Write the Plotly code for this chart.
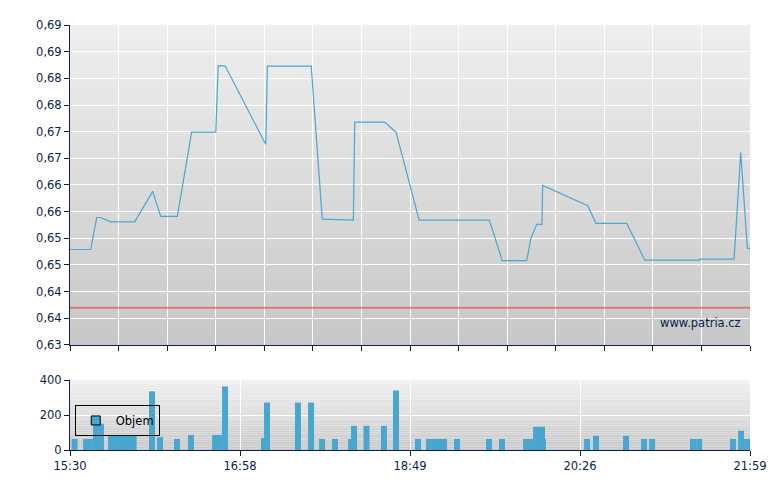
import plotly.graph_objects as go

# ---- data ----
# x positions: session position scale 0..389 (linear)
price_x = [0, 11.8, 15.3, 17.6, 23.3, 37.0, 47.3, 51.9, 61.4, 69.6,
           83.4, 84.8, 88.8, 112.0, 112.9, 138.0, 144.3, 162.1, 162.9, 180.0,
           186.5, 199.7, 239.9, 247.3, 261.3, 263.6, 267.0, 270.0, 270.4, 296.2,
           300.9, 318.5, 328.8, 360.0, 360.4, 379.9, 383.7, 387.5, 389]
price_y = [0.6479, 0.6479, 0.6539, 0.6539, 0.6531, 0.6531, 0.6588, 0.6541, 0.6541, 0.6699,
           0.6699, 0.6824, 0.6823, 0.6676, 0.6823, 0.6823, 0.6536, 0.6534, 0.6718, 0.6718,
           0.6699, 0.6534, 0.6534, 0.6458, 0.6458, 0.6500, 0.6526, 0.6526, 0.6599, 0.6561,
           0.6528, 0.6528, 0.6459, 0.6459, 0.6461, 0.6461, 0.6661, 0.6481, 0.6481]
prev_close = 0.637

vol_x = [2.6, 9.2, 11.4, 14.9, 17.7, 23.5, 26.9, 30.3, 33.2, 36.4,
         46.9, 51.5, 61.2, 69.2, 83.0, 85.2, 88.7, 111.0, 112.7, 130.4,
         137.9, 144.2, 151.6, 160.8, 162.5, 169.6, 179.6, 186.5, 199.1, 205.4,
         208.8, 212.2, 214.0, 221.4, 239.7, 247.1, 260.9, 263.2, 266.6, 270.0,
         270.6, 295.8, 300.9, 318.1, 328.4, 333.0, 356.4, 359.9, 379.3, 383.9, 387.3]
vol_y = [63, 63, 63, 150, 150, 86, 86, 86, 86, 86,
         335, 73, 63, 86, 86, 86, 363, 69, 271, 271,
         271, 63, 63, 63, 138, 138, 138, 340, 63, 63,
         63, 63, 63, 63, 63, 63, 63, 63, 133, 133,
         63, 63, 81, 81, 63, 63, 63, 63, 63, 110, 63]

price_tickvals = [0.630, 0.635, 0.640, 0.645, 0.650, 0.655, 0.660,
                  0.665, 0.670, 0.675, 0.680, 0.685, 0.690]
price_ticktext = ["0,63", "0,64", "0,64", "0,65", "0,65", "0,66", "0,66",
                  "0,67", "0,67", "0,68", "0,68", "0,69", "0,69"]
vol_tickvals = [0, 200, 400]
time_tickvals = [0, 97.25, 194.5, 291.75, 389]
time_ticktext = ["15:30", "16:58", "18:49", "20:26", "21:59"]

X_MAX = 389
NAVY = "#0a1f4e"
LINE_BLUE = "#4aa6d2"
BAR_BLUE = "#48a6cf"
FONT = dict(family="DejaVu Sans, Verdana, sans-serif", size=11.5, color=NAVY)

fig = go.Figure()

fig.add_trace(go.Scatter(x=price_x, y=price_y, mode="lines",
                         line=dict(color=LINE_BLUE, width=1.2),
                         showlegend=False, xaxis="x", yaxis="y"))

fig.add_trace(go.Bar(x=vol_x, y=vol_y, width=3.43, marker=dict(color=BAR_BLUE, line=dict(width=0)),
                     showlegend=False, xaxis="x2", yaxis="y2"))
# legend entry
fig.add_trace(go.Scatter(x=[None], y=[None], mode="markers", name="Objem",
                         marker=dict(symbol="square", size=9, color=BAR_BLUE,
                                     line=dict(color="black", width=1)),
                         xaxis="x2", yaxis="y2"))

# gradient backgrounds
def gradient(xref, yref, top=(239, 239, 239), bottom=(199, 199, 199), n=40):
    for i in range(n):
        f = (i + 0.5) / n
        c = tuple(int(round(bottom[k] + (top[k] - bottom[k]) * f)) for k in range(3))
        fig.add_shape(type="rect", xref=xref, yref=yref, x0=0, x1=1,
                      y0=i / n, y1=(i + 1) / n, layer="below",
                      line=dict(width=0), fillcolor="rgb(%d,%d,%d)" % c)

gradient("x domain", "y domain")
gradient("x2 domain", "y2 domain", bottom=(201, 201, 201))

fig.add_shape(type="line", xref="x domain", yref="y", x0=0, x1=1,
              y0=prev_close, y1=prev_close, line=dict(color="rgba(225,60,60,0.6)", width=2))

fig.add_annotation(text="www.patria.cz", xref="x domain", yref="y domain",
                   x=0.99, y=0.07, xanchor="right", yanchor="middle",
                   showarrow=False, font=FONT)

axis_common = dict(showline=True, linecolor=NAVY, linewidth=1, ticks="outside",
                   ticklen=5, tickcolor=NAVY, gridcolor="white", gridwidth=1,
                   zeroline=False, tickfont=FONT, automargin=False)

# page body has an 8px default margin: figure is sized/offset to compensate
fig.update_layout(
    width=772, height=482,
    margin=dict(l=62, r=30, t=17, b=40, autoexpand=False),
    paper_bgcolor="white", plot_bgcolor="rgba(0,0,0,0)",
    font=FONT,
    barmode="overlay",
    xaxis=dict(domain=[0, 1], range=[0, X_MAX], anchor="y",
               tickvals=[i * X_MAX / 14 for i in range(15)],
               showticklabels=False, **axis_common),
    yaxis=dict(domain=[0.2471, 1], range=[0.63, 0.69], anchor="x",
               tickvals=price_tickvals, ticktext=price_ticktext, **axis_common),
    xaxis2=dict(domain=[0, 1], range=[0, X_MAX], anchor="y2",
                tickvals=time_tickvals, ticktext=time_ticktext, **axis_common),
    yaxis2=dict(domain=[0, 0.1647], range=[0, 400], anchor="x2",
                tickvals=vol_tickvals, **axis_common),
    showlegend=True,
    legend=dict(x=0.007, y=0.106, xref="paper", yref="paper",
                xanchor="left", yanchor="top",
                bgcolor="rgba(0,0,0,0)", bordercolor="black", borderwidth=1,
                font=dict(family="DejaVu Sans, Verdana, sans-serif", size=11.5, color="black")),
)

fig.write_html("out.html")
